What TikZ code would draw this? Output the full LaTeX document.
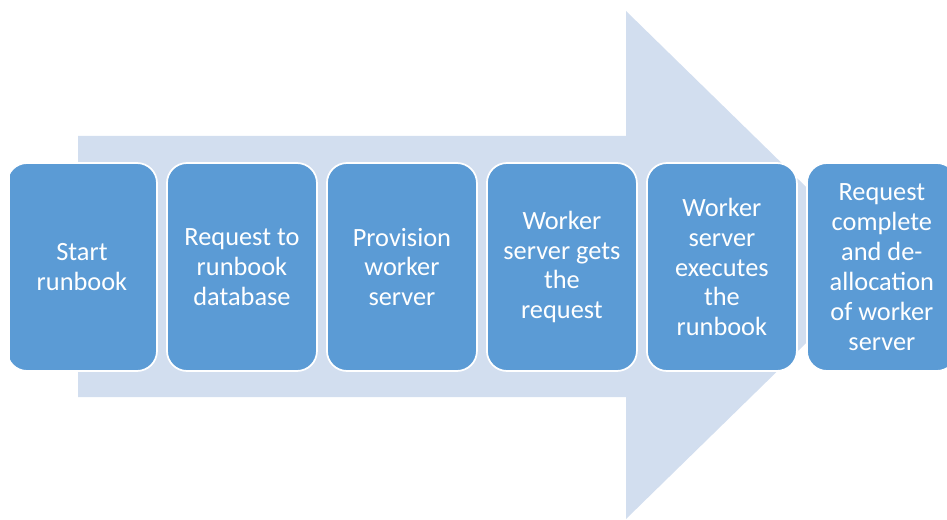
\documentclass[tikz,border=0pt]{standalone}
\usepackage{fontspec}
\setmainfont{Carlito}
\usetikzlibrary{positioning}
\definecolor{stepblue}{HTML}{5B9BD5}
\definecolor{arrowbg}{HTML}{D2DEEF}

\begin{document}
\begin{tikzpicture}[
  x=0.02cm, y=-0.02cm,
  every node/.style={align=center},
  stepbox/.style={
    rectangle, rounded corners=0.4cm, draw=white, line width=1pt,
    fill=stepblue, text=white, minimum width=3cm, minimum height=4.16cm,
    inner sep=2pt, font=\fontsize{15}{17}\selectfont
  },
  node distance=0.165cm,
]
\useasboundingbox (0,0) rectangle (947,520);
\clip (10,0) rectangle (947,520);

% Background arrow
\fill[arrowbg] (78,136) -- (626,136) -- (626,11) -- (886,265)
  -- (626,519) -- (626,397) -- (78,397) -- cycle;

% Steps, left to right
\node[stepbox] (start) at (82,267) {Start\\runbook};
\node[stepbox, right=of start]   (reqdb)   {Request to\\runbook\\database};
\node[stepbox, right=of reqdb]   (prov)    {Provision\\worker\\server};
\node[stepbox, right=of prov]    (gets)    {Worker\\server gets\\the\\request};
\node[stepbox, right=of gets]    (exec)    {Worker\\server\\executes\\the\\runbook};
\node[stepbox, right=of exec]    (done)    {Request\\complete\\and de-\\allocation\\of worker\\server};
\end{tikzpicture}
\end{document}
